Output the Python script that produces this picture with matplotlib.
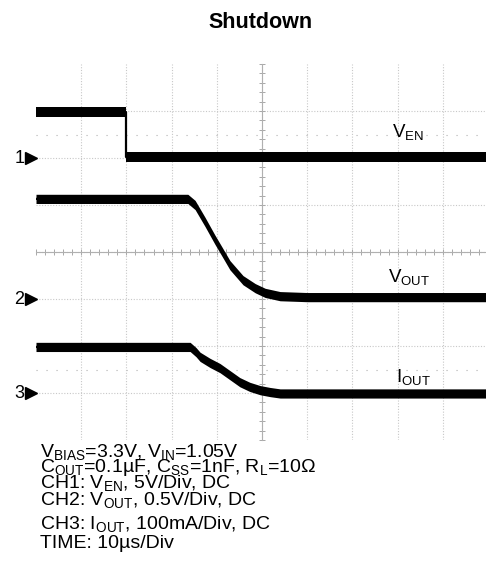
import matplotlib
matplotlib.use('Agg')
import matplotlib.pyplot as plt
import numpy as np
from matplotlib.ticker import FixedLocator, MultipleLocator

plt.rcParams['font.family'] = ['Liberation Sans', 'DejaVu Sans']
plt.rcParams['mathtext.fontset'] = 'custom'
plt.rcParams['mathtext.rm'] = 'Liberation Sans'
plt.rcParams['mathtext.it'] = 'Liberation Sans'
plt.rcParams['mathtext.bf'] = 'Liberation Sans:bold'

# scope settings
time_per_div = 10.0      # us/Div
ven_per_div = 5.0        # V/Div
vout_per_div = 0.5       # V/Div
iout_per_div = 100.0     # mA/Div
ch_ref = [6.0, 3.0, 1.0] # ground marker of CH1..CH3, in divisions

# CH1: enable voltage (us, V)
t_ven = [0, 20, 20, 100]
ven = [4.9, 4.9, 0.1, 0.1]

# CH2: output voltage (us, V)
t_vout = [0, 33.6, 35.2, 37.4, 39.6, 41.2, 42.9, 45.8, 48.5, 50.7, 54.0, 60, 100]
vout = [1.065, 1.065, 1.0, 0.82, 0.63, 0.5, 0.36, 0.2, 0.115, 0.065, 0.03, 0.02, 0.02]

# CH3: output current (us, mA)
t_iout = [0, 34.1, 35.4, 36.3, 38.5, 40.7, 42.9, 45.1, 47.3, 49.6, 51.8, 54.0, 100]
iout = [98, 98, 87, 77, 64, 53, 38, 23, 13, 6, 2, -1, -1]

channel_labels = [r'V$_{\mathrm{EN}}$', r'V$_{\mathrm{OUT}}$', r'I$_{\mathrm{OUT}}$']
label_pos = [(392, 137), (388, 282), (396, 382)]   # pixel x, baseline y

notes = [
    r'V$_{\mathrm{BIAS}}$=3.3V, V$_{\mathrm{IN}}$=1.05V',
    r'C$_{\mathrm{OUT}}$=0.1µF, C$_{\mathrm{SS}}$=1nF, R$_{\mathrm{L}}$=10Ω',
    r'CH1: V$_{\mathrm{EN}}$, 5V/Div, DC',
    r'CH2: V$_{\mathrm{OUT}}$, 0.5V/Div, DC',
    r'CH3: I$_{\mathrm{OUT}}$, 100mA/Div, DC',
    'TIME: 10µs/Div',
]
note_baselines = [457, 472, 488, 505, 529, 548]

W, H = 486, 574
fig = plt.figure(figsize=(W / 100, H / 100), dpi=100)
ax = fig.add_axes([36 / W, (H - 440) / H, 450 / W, 376 / H])

# screen: 10 x 8 divisions, right edge is cut by the picture
ax.set_xlim(0, 450 / 45.2 * time_per_div)
ax.set_ylim(0, 8)

# dotted graticule, center lines carry the small ticks
ax.xaxis.set_major_locator(FixedLocator(np.arange(1, 10) * time_per_div))
ax.yaxis.set_major_locator(FixedLocator(np.arange(1, 8)))
ax.xaxis.set_minor_locator(MultipleLocator(time_per_div / 5))
ax.yaxis.set_minor_locator(MultipleLocator(0.2))
ax.grid(True, which='major', color='#c8c8c8', linestyle=(0, (1, 1.5)), linewidth=0.8)
for side in ['top', 'right']:
    ax.spines[side].set_visible(False)
ax.spines['left'].set_position(('data', 5 * time_per_div))
ax.spines['bottom'].set_position(('data', 4))
for side in ['left', 'bottom']:
    ax.spines[side].set_color('#b0b0b0')
    ax.spines[side].set_linewidth(0.8)
ax.tick_params(which='both', direction='inout', length=5, width=0.7, color='#a8a8a8',
               labelleft=False, labelbottom=False)
ax.set_axisbelow(True)

# sparse dotted level lines
for lvl in [6.5, 1.5]:
    ax.axhline(lvl, color='#b0b0b0', linestyle=(0, (1, 8)), linewidth=0.8, zorder=0.5)

# traces, drawn as a band to look like the noisy scope trace
band = 4.6 / 47.0
traces = [
    (t_ven, np.array(ven) / ven_per_div + ch_ref[0]),
    (t_vout, np.array(vout) / vout_per_div + ch_ref[1]),
    (t_iout, np.array(iout) / iout_per_div + ch_ref[2]),
]
for t, y in traces:
    ax.fill_between(t, y - band, y + band, color='black', linewidth=0, zorder=3)
    ax.plot(t, y, color='black', linewidth=1.6, zorder=3)

# channel markers on the left
for i, ref in enumerate(ch_ref):
    ax.plot([-1.1], [ref], marker='>', markersize=9, color='black', clip_on=False)
    ax.annotate(str(i + 1), xy=(-2.6, ref), xycoords='data', ha='right', va='center',
                fontsize=13, annotation_clip=False)

# channel names
for lab, (px, py) in zip(channel_labels, label_pos):
    fig.text(px / W, 1 - py / H, lab, fontsize=13.5, va='baseline', ha='left')

fig.text(260 / W, 1 - 28 / H, 'Shutdown', fontsize=15.5, fontweight='bold',
         ha='center', va='baseline')

for s, yb in zip(notes, note_baselines):
    fig.text(40 / W, 1 - yb / H, s, fontsize=14, va='baseline', ha='left')

fig.savefig('out.png', dpi=100)
